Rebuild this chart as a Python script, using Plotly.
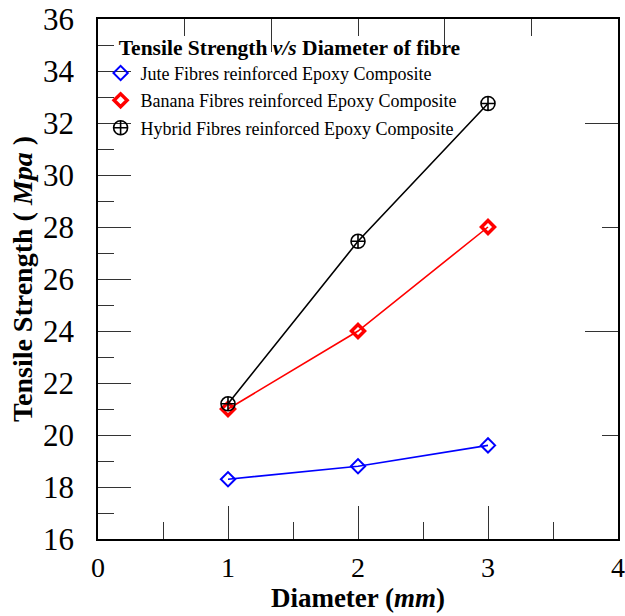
import plotly.graph_objects as go

# Fibre diameter (mm) and tensile strength (MPa) for each composite
diameter = [1, 2, 3]
jute = [18.3, 18.8, 19.6]
banana = [21.0, 24.0, 28.0]
hybrid = [21.2, 27.45, 32.75]

series_names = [
    "Jute Fibres reinforced Epoxy Composite",
    "Banana Fibres reinforced Epoxy Composite",
    "Hybrid Fibres reinforced Epoxy Composite",
]

serif = "Liberation Serif, Times New Roman, serif"

fig = go.Figure()

styles = [
    (jute, "#0000ff", dict(symbol="diamond-open", size=11, line=dict(width=2, color="#0000ff"))),
    (banana, "#ff0000", dict(symbol="diamond-open", size=10, line=dict(width=3.5, color="#ff0000"))),
    (hybrid, "#000000", dict(symbol="circle-cross-open", size=14, line=dict(width=1.6, color="#000000"))),
]

for i, ((vals, col, mk), name) in enumerate(zip(styles, series_names)):
    # connecting line (no legend entry)
    fig.add_trace(go.Scatter(
        x=diameter, y=vals, mode="lines",
        line=dict(color=col, width=1.6),
        showlegend=False, hoverinfo="skip",
    ))
    # markers with legend entry
    fig.add_trace(go.Scatter(
        x=diameter, y=vals, mode="markers", name=name,
        marker=dict(color=col, **mk),
        legendgroup=f"g{i}",
    ))

# invisible trace anchoring the secondary (top/right) axes
fig.add_trace(go.Scatter(x=[None], y=[None], xaxis="x2", yaxis="y2",
                         showlegend=False, hoverinfo="skip"))

axis_common = dict(
    ticks="inside", ticklen=33, tickwidth=1, tickcolor="#333",
    showline=True, linecolor="#000", linewidth=1.5,
    showgrid=False, zeroline=False, automargin=False,
)

fig.update_layout(
    width=625, height=616,
    margin=dict(l=98, r=7, t=19, b=77),
    paper_bgcolor="white", plot_bgcolor="white",
    font=dict(family=serif, color="black"),
    xaxis=dict(
        range=[0, 4], dtick=1, tick0=0,
        minor=dict(dtick=0.5, ticklen=17, ticks="inside", tickcolor="#333", tickwidth=1),
        tickfont=dict(size=28, family=serif),
        ticklabelstandoff=3,
        ticklabeloverflow="allow",
        title=dict(text="<b>Diameter (<i>mm</i>)</b>", font=dict(size=27, family=serif), standoff=0),
        **axis_common,
    ),
    yaxis=dict(
        range=[16, 36], dtick=2, tick0=16,
        minor=dict(dtick=1, ticklen=16, ticks="inside", tickcolor="#333", tickwidth=1),
        tickfont=dict(size=31, family=serif),
        ticklabelstandoff=16,
        ticklabeloverflow="allow",
        title=dict(text="<b>Tensile Strength ( <i>Mpa</i> )</b>", font=dict(size=28, family=serif), standoff=2),
        **axis_common,
    ),
    xaxis2=dict(
        overlaying="x", side="top", range=[0, 6], dtick=2, tick0=0,
        minor=dict(dtick=1, ticklen=17, ticks="inside", tickcolor="#333", tickwidth=1),
        showticklabels=False,
        **axis_common,
    ),
    yaxis2=dict(
        overlaying="y", side="right", range=[0, 5], dtick=2, tick0=0,
        minor=dict(dtick=1, ticklen=16, ticks="inside", tickcolor="#333", tickwidth=1),
        showticklabels=False,
        **axis_common,
    ),
    legend=dict(
        x=0.005, y=0.985, xanchor="left", yanchor="top",
        bgcolor="rgba(0,0,0,0)", borderwidth=0,
        font=dict(size=18, family=serif),
        title=dict(text="&nbsp;&nbsp;&nbsp;<b>Tensile Strength <i>v/s</i> Diameter of fibre</b>",
                   font=dict(size=21.5, family=serif)),
        tracegroupgap=1,
        itemwidth=30,
    ),
)

fig.write_html("out.html")
